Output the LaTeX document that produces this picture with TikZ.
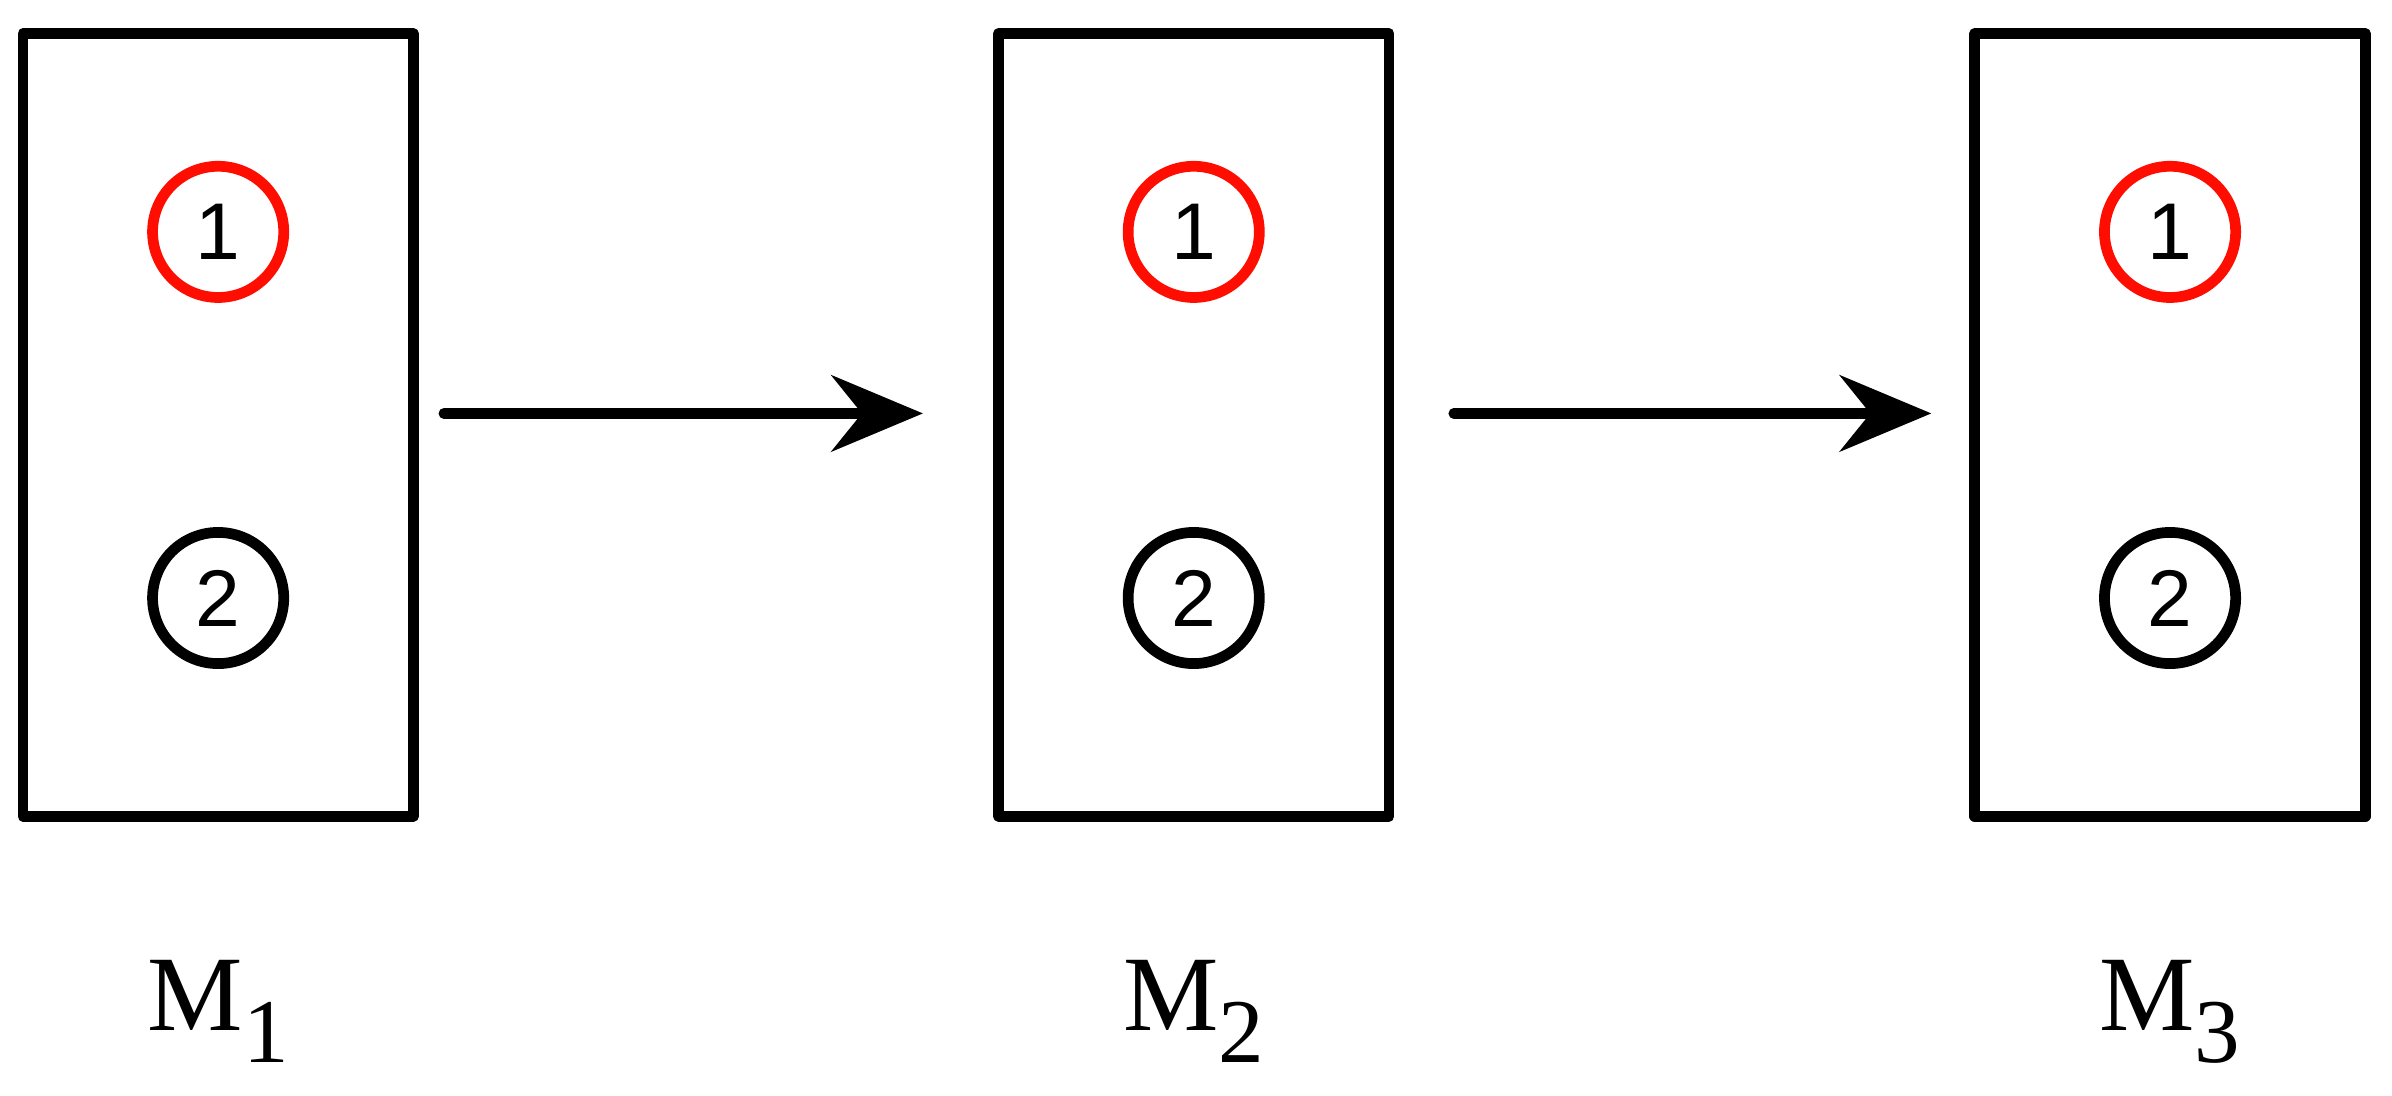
\documentclass[tikz,border=0pt]{standalone}
\usepackage{fontspec}
\setmainfont{Liberation Serif}
\newfontfamily\digitfont{Liberation Sans}
\usetikzlibrary{arrows.meta}
\begin{document}
\begin{tikzpicture}[
  box/.style={draw,line width=2pt,line join=round,minimum width=2.56cm,minimum height=5.13cm,inner sep=0},
  circ/.style={draw,circle,line width=2pt,minimum size=0.86cm,inner sep=0,font=\digitfont\fontsize{15}{15}\selectfont},
  arr/.style={line width=2pt,line cap=round,-{Stealth[length=0.6cm,width=0.5cm,inset=0.2cm]}},
  lab/.style={font=\fontsize{20}{20}\selectfont}]
\useasboundingbox (0,0) rectangle (15.68,7.18);
\foreach \i/\x in {1/1.43,2/7.825,3/14.225}{
  \node[box] (b\i) at (\x,4.395) {};
  \node[circ,draw=red!90!orange] (r\i) at (\x,5.66) {1};
  \node[circ] (k\i) at (\x,3.26) {2};
  \node[lab] (m\i) at (\x,0.55) {M\raisebox{-0.3em}{\fontsize{17}{17}\selectfont\i}};
}
\coordinate (s1) at (2.91,4.47); \coordinate (e1) at (6.05,4.47);
\coordinate (s2) at (9.53,4.47); \coordinate (e2) at (12.66,4.47);
\draw[arr] (s1) -- (e1);
\draw[arr] (s2) -- (e2);
\end{tikzpicture}
\end{document}
